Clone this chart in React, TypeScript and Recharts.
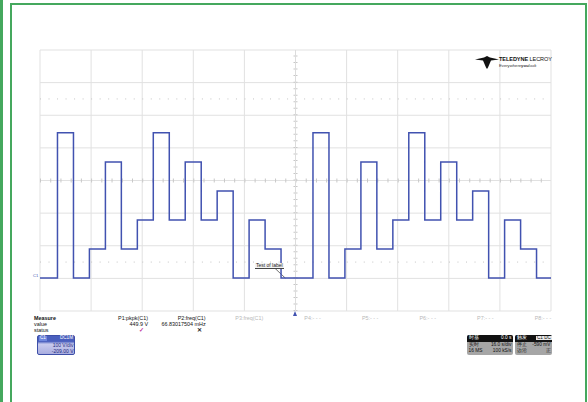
import React from 'react';
import { LineChart, Line, XAxis, YAxis, CartesianGrid, ReferenceLine } from 'recharts';

// time in divisions (10 div across screen), value in volts (100 V/div)
const segmentStartDiv = [
  0, 0.342, 0.655, 0.967, 1.28, 1.592, 1.905, 2.217, 2.53, 2.842, 3.155, 3.467, 3.78, 4.092, 4.405, 4.717,
  5.03, 5.342, 5.655, 5.967, 6.28, 6.592, 6.905, 7.217, 7.53, 7.842, 8.155, 8.467, 8.78, 9.092, 9.405, 9.717,
  10,
];
const segmentLevelV = [
  -299, 146, -299, -210, 57, -210, -121, 146, -121, 57, -121, -32, -299, -121, -210, -299,
  -299, 146, -299, -210, 57, -210, -121, 146, -121, 57, -121, -32, -299, -121, -210, -299,
  -299,
];
const xTicks = [0, 1, 2, 3, 4, 5, 6, 7, 8, 9, 10];
const yTicks = [-400, -300, -200, -100, 0, 100, 200, 300, 400];

const measureLabels = ['Measure', 'value', 'status'];
const paramNames = ['P1:pkpk(C1)', 'P2:freq(C1)', 'P3:freq(C1)', 'P4:- - -', 'P5:- - -', 'P6:- - -', 'P7:- - -', 'P8:- - -'];
const paramValues = ['449.9 V', '66.83017504 mHz', '', '', '', '', '', ''];
const paramStatus = ['✓', '✕', '', '', '', '', '', ''];
const paramActive = [true, true, false, false, false, false, false, false];

const data = segmentStartDiv.map((t, i) => ({ t, v: segmentLevelV[i] }));

const FONT = "'Liberation Sans', Arial, sans-serif";
const GREEN = '#45a85e';

const abs = (left: number, top: number, extra: React.CSSProperties = {}): React.CSSProperties => ({
  position: 'absolute',
  left,
  top,
  fontFamily: FONT,
  lineHeight: 1,
  whiteSpace: 'nowrap',
  ...extra,
});

export default function App() {
  return (
    <div style={{ position: 'absolute', left: 0, top: 0, width: 588, height: 402, background: '#fff', overflow: 'hidden' }}>
      {/* green frames */}
      <div style={{ position: 'absolute', left: 0, top: 0, width: 2.5, height: 402, background: GREEN }} />
      <div style={{ position: 'absolute', left: 10, top: 3, width: 573, height: 420, border: `2.5px solid ${GREEN}` }} />

      <div style={{ position: 'absolute', left: 0, top: 0 }}>
        <LineChart width={588} height={402} data={data} margin={{ top: 50, right: 37, bottom: 91, left: 40 }}>
          <CartesianGrid stroke="#e1e1e1" strokeWidth={1} />
          <XAxis type="number" dataKey="t" domain={[0, 10]} ticks={xTicks} hide />
          <YAxis type="number" domain={[-400, 400]} ticks={yTicks} hide />
          <ReferenceLine y={250} stroke="#c4c4c4" strokeDasharray="1 7.52" />
          <ReferenceLine y={-250} stroke="#c4c4c4" strokeDasharray="1 7.52" />
          <ReferenceLine y={0} stroke="#c8c8c8" strokeWidth={4} strokeDasharray="1 9.22" />
          <ReferenceLine x={5} stroke="#c8c8c8" strokeWidth={4} strokeDasharray="1 5.525" />
          <ReferenceLine x={5} stroke="#dcdcdc" strokeWidth={1} />
          <ReferenceLine
            segment={[{ x: 4.55, y: -262 }, { x: 4.8, y: -299 }]}
            stroke="#333"
            strokeWidth={0.7}
          />
          <Line
            type="stepAfter"
            dataKey="v"
            stroke="#4152b0"
            strokeWidth={1.5}
            dot={false}
            isAnimationActive={false}
          />
        </LineChart>
      </div>

      {/* channel marker */}
      <div style={abs(33, 274, { fontSize: 4, color: '#4152b0' })}>C1</div>

      {/* annotation label */}
      <div style={abs(255, 262.5, { fontSize: 5, color: '#222', borderBottom: '0.8px solid #444', padding: '0 1px', background: '#f4f4f4' })}>
        Test of label
      </div>

      {/* trigger marker */}
      <div style={{ position: 'absolute', left: 293, top: 311, width: 0, height: 0, borderLeft: '2.5px solid transparent', borderRight: '2.5px solid transparent', borderBottom: '5px solid #4152b0' }} />

      {/* logo */}
      <svg style={{ position: 'absolute', left: 475, top: 56 }} width={24} height={13} viewBox="0 0 24 13">
        <polygon points="0,3.5 9,1.5 12,0 15,1.5 24,3.5 16,4.5 13,11.5 12,13 11,11.5 8,4.5" fill="#111" />
      </svg>
      <div style={abs(499, 57, { fontSize: 5.6, color: '#111', fontWeight: 700, letterSpacing: -0.1 })}>
        TELEDYNE <span style={{ fontWeight: 400 }}>LECROY</span>
      </div>
      <div style={abs(499, 63.5, { fontSize: 4.2, color: '#333' })}>
        Everywhere<b>you</b><i>look</i>
      </div>

      {/* measure table */}
      {measureLabels.map((m, i) => (
        <div key={m} style={abs(34, 316 + i * 6, { fontSize: 5.4, color: '#111', fontWeight: i === 0 ? 700 : 400 })}>
          {m}
        </div>
      ))}
      {paramNames.map((p, i) => {
        const right = 148 + i * 57.6;
        return (
          <React.Fragment key={p}>
            <div style={abs(right - 70, 316, { width: 70, textAlign: 'right', fontSize: 5.4, color: paramActive[i] ? '#111' : '#b8b8b8' })}>
              {p}
            </div>
            <div style={abs(right - 70, 322, { width: 70, textAlign: 'right', fontSize: 5.4, color: '#111' })}>
              {paramValues[i]}
            </div>
            <div style={abs(right - 70, 327.5, { width: 66, textAlign: 'right', fontSize: 5.6, fontWeight: 700, color: i === 0 ? '#c0359c' : '#222' })}>
              {paramStatus[i]}
            </div>
          </React.Fragment>
        );
      })}

      {/* channel descriptor */}
      <div style={{ position: 'absolute', left: 37, top: 335, width: 38, height: 20, borderRadius: 2, border: '0.8px solid #3d4fa8', background: 'linear-gradient(#4a5fbe 0%, #4a5fbe 30%, #c9cbee 45%, #a9addf 100%)', boxSizing: 'border-box' }} />
      <div style={abs(39, 336, { fontSize: 4.6, color: '#fff', background: '#6e86dd', padding: '0 1px' })}>C1</div>
      <div style={abs(52, 336, { width: 21, textAlign: 'right', fontSize: 4.6, color: '#fff' })}>DC1M</div>
      <div style={abs(40, 343, { width: 33.5, textAlign: 'right', fontSize: 5, color: '#1d2a80' })}>100 V/div</div>
      <div style={abs(40, 349, { width: 33.5, textAlign: 'right', fontSize: 5, color: '#1d2a80' })}>-209.00 V</div>

      {/* timebase */}
      <div style={{ position: 'absolute', left: 467, top: 335, width: 46, height: 20, borderRadius: 2, background: '#a6a6a6', overflow: 'hidden' }}>
        <div style={{ height: 6.5, background: '#111' }} />
      </div>
      <div style={abs(468.5, 336, { fontSize: 4.8, color: '#fff' })}>时基</div>
      <div style={abs(490, 336, { width: 21.5, textAlign: 'right', fontSize: 4.8, color: '#fff' })}>0.0 s</div>
      <div style={abs(468.5, 343, { fontSize: 4.8, color: '#111' })}>实时</div>
      <div style={abs(480, 343, { width: 31.5, textAlign: 'right', fontSize: 4.8, color: '#111' })}>16.0 s/div</div>
      <div style={abs(468.5, 349, { fontSize: 4.8, color: '#111' })}>16 MS</div>
      <div style={abs(480, 349, { width: 31.5, textAlign: 'right', fontSize: 4.8, color: '#111' })}>100 kS/s</div>

      {/* trigger */}
      <div style={{ position: 'absolute', left: 515, top: 335, width: 37, height: 20, borderRadius: 2, background: '#a6a6a6', overflow: 'hidden' }}>
        <div style={{ height: 6.5, background: '#111' }} />
      </div>
      <div style={abs(516.5, 336, { fontSize: 4.8, color: '#fff' })}>触发</div>
      <div style={abs(536, 335.8, { fontSize: 4.6, color: '#111', background: '#e8e8e8', padding: '0 1px' })}>C1 DC</div>
      <div style={abs(516.5, 343, { fontSize: 4.8, color: '#111' })}>停止</div>
      <div style={abs(528, 343, { width: 22.5, textAlign: 'right', fontSize: 4.8, color: '#111' })}>-590 mV</div>
      <div style={abs(516.5, 349, { fontSize: 4.8, color: '#111' })}>边沿</div>
      <div style={abs(528, 349, { width: 22.5, textAlign: 'right', fontSize: 4.8, color: '#111' })}>正</div>
    </div>
  );
}
